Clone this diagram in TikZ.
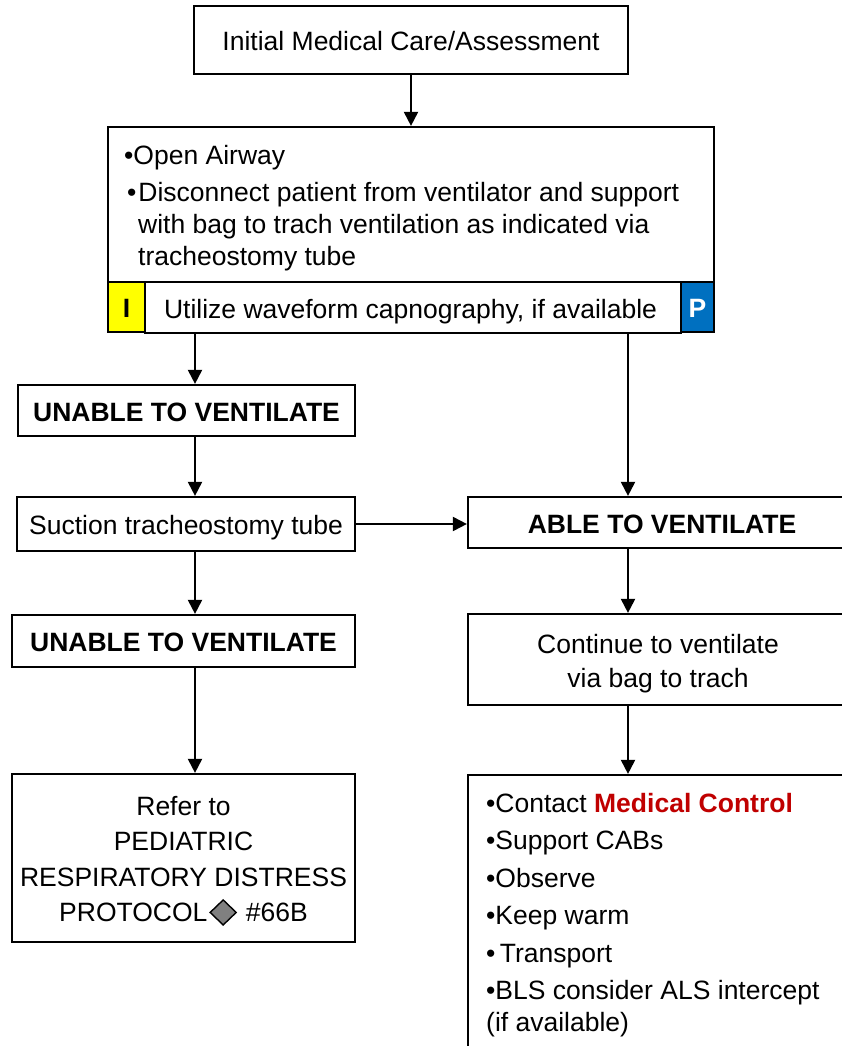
\documentclass[tikz,border=0pt]{standalone}
\usepackage{fontspec}
\setmainfont{Liberation Sans}
\usetikzlibrary{arrows.meta}
\definecolor{ipyellow}{HTML}{FFFF00}
\definecolor{pblue}{HTML}{0070C0}
\definecolor{mcred}{HTML}{C00000}
\definecolor{diagray}{HTML}{808080}
\tikzset{
  box/.style={draw=black, line width=2.2pt, fill=white, inner sep=0pt, align=center},
  onel/.style={text height=21pt, text depth=0pt},
  txt/.style={inner sep=0pt, align=left},
  ctxt/.style={inner sep=0pt, align=center},
  arr/.style={line width=2pt, -{Triangle[width=14pt,length=14pt]}}
}
\begin{document}
\begin{tikzpicture}[x=1pt,y=-1pt,font=\fontsize{26.5}{32}\selectfont]
\path[use as bounding box, clip] (0,0) rectangle (842,1046);
\coordinate (lx) at (195,0);
\coordinate (rx) at (628,0);

% top
\node[box, onel, minimum width=434, minimum height=68] (init) at (411,40) {Initial Medical Care/Assessment};

% assessment box
\node[box, minimum width=606, minimum height=205] (assess) at (411,229.5) {};
\node[txt, anchor=north west] (assesstxt) at (124,145) {%
•Open Airway\\[5pt]
\hspace*{3pt}•\hspace{2pt}Disconnect patient from ventilator and support\\
\hspace*{14pt}with bag to trach ventilation as indicated via\\
\hspace*{14pt}tracheostomy tube};

% capnography row
\node[box, onel, fill=ipyellow, minimum width=37, minimum height=50] (ibox) at (126.5,307) {\bfseries I};
\node[box, onel, minimum width=536, minimum height=51] (cap) at (413,307.5) {\hspace*{-5pt}Utilize waveform capnography, if available};
\node[box, onel, fill=pblue, text=white, minimum width=33, minimum height=50] (pbox) at (697.5,307) {\bfseries P};

% left column
\node[box, onel, minimum width=337, minimum height=51] (un1) at (186.5,410.5) {\bfseries UNABLE TO VENTILATE};
\node[box, onel, minimum width=338, minimum height=54] (suction) at (186,524) {Suction tracheostomy tube};
\node[box, onel, minimum width=343, minimum height=52] (un2) at (183.5,641) {\bfseries UNABLE TO VENTILATE};
\node[box, minimum width=343, minimum height=168] (refer) at (183.5,858) {};
\node[ctxt] (refertxt) at (183.5,860.8) {Refer to\\[3.6pt]
PEDIATRIC\\[3.6pt]
RESPIRATORY DISTRESS\\[3.6pt]
PROTOCOL\hspace{2pt}\tikz[baseline=-9.5pt,x=1pt,y=1pt]\draw[fill=diagray,line width=1.4pt,line join=miter] (-13,0)--(0,12.5)--(13,0)--(0,-12.5)--cycle;\hspace{9pt}\#66B};

% right column
\node[box, onel, minimum width=388, minimum height=51] (able) at (662,522.5) {\bfseries ABLE TO VENTILATE};
\node[box, minimum width=388, minimum height=91] (cont) at (662,659.5) {};
\node[ctxt] (conttxt) at (658,663.8) {Continue to ventilate\\[2pt] via bag to trach};
\node[box, minimum width=388, minimum height=285] (final) at (662,917.5) {};
\node[txt, anchor=north west] (finaltxt) at (486,793) {%
•Contact {\color{mcred}\bfseries Medical Control}\\[5.4pt]
•Support CABs\\[5.4pt]
•Observe\\[5.4pt]
•Keep warm\\[5.4pt]
•\,Transport\\[5.4pt]
•BLS consider ALS intercept\\
(if available)};

% connectors
\draw[arr] (init.south) -- (assess.north);
\draw[arr] (cap.south -| lx) -- (un1.north -| lx);
\draw[arr] (cap.south -| rx) -- (able.north -| rx);
\draw[arr] (un1.south -| lx) -- (suction.north -| lx);
\draw[arr] (suction.east) -- (suction.east -| able.west);
\draw[arr] (suction.south -| lx) -- (un2.north -| lx);
\draw[arr] (un2.south -| lx) -- (refer.north -| lx);
\draw[arr] (able.south -| rx) -- (cont.north -| rx);
\draw[arr] (cont.south -| rx) -- (final.north -| rx);
\end{tikzpicture}
\end{document}
